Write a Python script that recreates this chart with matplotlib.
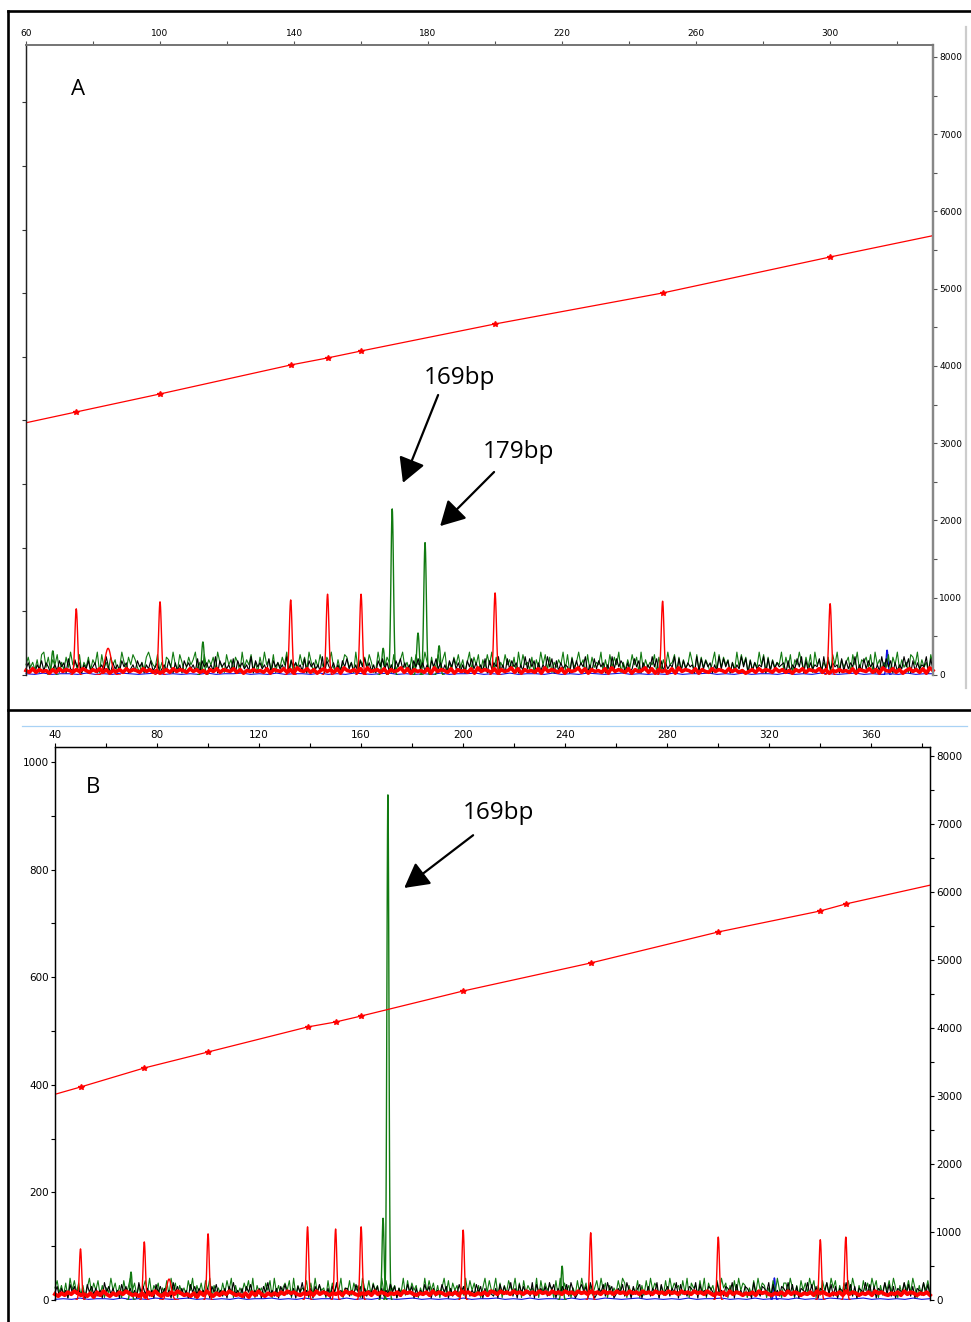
import numpy as np
import matplotlib
matplotlib.use('Agg')
import matplotlib.pyplot as plt
from matplotlib.lines import Line2D

# ---------------- data: panel A ----------------
# size standard peaks (bp) and the scan number of each (sizing curve, right axis)
sizes_a = [75, 100, 139, 150, 160, 200, 250, 300]
scans_a = [3405, 3638, 4013, 4104, 4194, 4544, 4945, 5411]
curve_end_bp_a = [60, 331]
curve_end_scan_a = [3265, 5690]
# size standard peak heights (left axis units)
ladder_h_a = [104, 115, 118, 127, 127, 129, 116, 112]
# other peaks: (bp, height)
green_bp_a = [68, 112.8, 166.6, 169.3, 177.0, 179.1, 183.3]
green_h_a = [38, 52, 42, 261, 66, 208, 46]
red_extra_bp_a = [84.5]
red_extra_h_a = [42]
blue_bp_a = [317]
blue_h_a = [39]

# baseline noise levels read along the run (one digit per sample)
green_noise_a = ("47352618937264815273946281537264918352746139527486315279643825176394"
                 "28513746925183647295318462751936482517394628153749261538472951638427"
                 "59316248735192647385129463751824693517284639517248369152748361592748"
                 "16384927153846271938452716394827153649281735946182735491628374915263"
                 "84719263548172639458172634951827364159283746152938471625394817263549"
                 "27381649527381946253718492635718492657381946253817492635187492635184")
black_noise_a = ("36241537264135274618327461537246135294163527461352746153724613527416"
                 "25174635281746352917463528174635291746352817463529174635281746352917"
                 "43625174836251748362517483625174836251748362517483625174836251748362"
                 "52817364925183746152938471625394817263541827364915283746152938475162"
                 "38471625394817263549182736451928374615293847162539481726354918273645"
                 "61725384917263548192736451827364915283746152938471625394817263549182")
red_noise_a = ("53736452637465364753647362546374653746352463746537463526473654736254"
               "64537265473628547362574637285463728456372645837264537284653726453728"
               "46537264583726453728465372645837264537284653726458372645372846537264"
               "37465374635246374653746352647365473625464537265473628547362574637285")
blue_noise_a = ("21312213121321231212131223121312213121321231212131223121312213121321"
                "23121213122312131221312132123121213122")

# ---------------- data: panel B ----------------
sizes_b = [50, 75, 100, 139, 150, 160, 200, 250, 300, 340, 350]
scans_b = [3132, 3412, 3647, 4015, 4088, 4176, 4544, 4956, 5412, 5721, 5824]
curve_end_bp_b = [40, 383]
curve_end_scan_b = [3025, 6100]
ladder_h_b = [95, 108, 123, 136, 132, 136, 130, 125, 117, 112, 117]
green_bp_b = [69.8, 168.6, 170.5, 238.8]
green_h_b = [52, 152, 939, 63]
red_extra_bp_b = [84.7]
red_extra_h_b = [39]
blue_bp_b = [322]
blue_h_b = [41]

green_noise_b = ("58362719483726159374826153947261835947261583926471538294716352849163"
                 "72849163527384916253748291635274819362574819263548172936451827364915"
                 "38274619538274619382746153928374615293847261593827461529384726159384"
                 "49271638549271836452918374651829374615283947162583947162538497162538"
                 "16283947516283947562839175628391746283957162839476152839476152839417"
                 "73951628473958162847395816274839516284739581627483951627483951627483")
black_noise_b = ("47263518473625184736251947362518473625194736251847362519473625184736"
                 "35261748352617493526174835261749352617483526174935261748352617493526"
                 "62538471625384716253847162538471625384716253847162538471625384716253"
                 "26184735926184735291846372958163748295136847295136482957136482951736"
                 "81537264918357264918352764918352764193527649183527641935276491835276"
                 "49382716549382716549382716549382716549382716549382716549382716549382")
red_noise_b = ("64758697564738596475869756473859647586975647385964758697564738596475"
               "75869786576859687576859786576859687576859786576859687576859786576859"
               "86978697869786978697869786978697869786978697869786978697869786978697"
               "57685968757685978657685968757685978657685968757685978657685968757685")
blue_noise_b = ("12131221312132123121213122312131221312132123121213122312131221312132"
                "12312121312231213122131213212312121312")

GREEN = '#117a11'
RED = '#ff0000'
BLUE = '#1010e0'
TICKFONT = ['Liberation Sans Narrow', 'DejaVu Sans']
LABELFONT = ['Open Sans', 'DejaVu Sans']

W, H = 971, 1322


def rect(x0, y0, x1, y1):
    # pixel box -> figure fraction
    return [x0 / W, 1 - y1 / H, (x1 - x0) / W, (y1 - y0) / H]


def noise_line(ax, s, xlim, scale, color, lw, z):
    vals = np.array([int(c) for c in s]) * scale
    xs = np.linspace(xlim[0], xlim[1], len(vals))
    ax.plot(xs, vals, color=color, lw=lw, zorder=z, clip_on=False)


def peaks(ax, bps, hs, color, sigma, z, lw=1.0):
    for p, h in zip(bps, hs):
        xs = np.linspace(p - 4 * sigma, p + 4 * sigma, 41)
        ax.plot(xs, h * np.exp(-0.5 * ((xs - p) / sigma) ** 2), color=color, lw=lw, zorder=z)


def style_ticks(ax, ax2):
    for a in (ax, ax2):
        for lab in a.get_xticklabels() + a.get_yticklabels():
            lab.set_family(TICKFONT)
            lab.set_fontsize(6.5)


fig = plt.figure(figsize=(9.71, 13.22), dpi=100)

# ================= panel A =================
xlim_a = (60, 330.7)
axA = fig.add_axes(rect(26, 45, 933, 675))
axA.set_xlim(*xlim_a)
axA.set_ylim(0, 990)
axA2 = axA.twinx()
axA2.set_ylim(0, 8155)

noise_line(axA, blue_noise_a, xlim_a, 1.0, BLUE, 0.8, 2)
noise_line(axA, green_noise_a, xlim_a, 4.0, GREEN, 0.8, 3)
noise_line(axA, black_noise_a, xlim_a, 3.2, 'black', 0.8, 4)
noise_line(axA, red_noise_a, xlim_a, 1.4, RED, 2.6, 5)
peaks(axA, green_bp_a, green_h_a, GREEN, 0.38, 3)
peaks(axA, blue_bp_a, blue_h_a, BLUE, 0.3, 2)
peaks(axA, sizes_a, ladder_h_a, RED, 0.4, 6)
peaks(axA, red_extra_bp_a, red_extra_h_a, RED, 0.9, 6)

axA2.plot([curve_end_bp_a[0]] + sizes_a + [curve_end_bp_a[1]],
          [curve_end_scan_a[0]] + scans_a + [curve_end_scan_a[1]], color=RED, lw=0.9)
axA2.plot(sizes_a, scans_a, ls='none', marker='*', ms=4, color=RED)

axA.xaxis.tick_top()
axA.set_xticks(np.arange(60, 331, 40))
axA.set_xticks(np.arange(80, 331, 40), minor=True)
axA.tick_params(axis='x', which='both', top=True, bottom=False, labeltop=True,
                labelbottom=False, length=3, width=0.8, pad=2, color='#555555')
axA.set_yticks(np.arange(0, 991, 100))
axA.set_yticklabels([])
axA.tick_params(axis='y', length=3, width=0.8, color='#333333')
axA2.set_yticks(np.arange(0, 8001, 1000))
axA2.set_yticks(np.arange(500, 8001, 1000), minor=True)
axA2.tick_params(axis='y', which='both', length=3, width=0.8, pad=1.5, color='#555555')
style_ticks(axA, axA2)

for a in (axA, axA2):
    a.spines['bottom'].set_visible(False)
    a.spines['top'].set_color('#777777')
    a.spines['top'].set_linewidth(1.4)
    a.spines['left'].set_color('#222222')
    a.spines['left'].set_linewidth(0.9)
    a.spines['right'].set_color('#888888')
    a.spines['right'].set_linewidth(1.6)
    a.set_facecolor('none')

axA.text(75.5, 920, 'A', fontsize=16, family=LABELFONT, ha='center', va='center')
axA.text(189.3, 467, '169bp', fontsize=17.5, family=LABELFONT, ha='center', va='center')
axA.text(206.9, 351, '179bp', fontsize=17.5, family=LABELFONT, ha='center', va='center')
arrow = dict(arrowstyle='-|>,head_length=1.0,head_width=0.55', mutation_scale=15,
             lw=1.6, color='black', shrinkA=0, shrinkB=0)
axA.annotate('', xy=(172.5, 302), xytext=(183.0, 440), arrowprops=arrow)
axA.annotate('', xy=(183.6, 234), xytext=(199.7, 319), arrowprops=arrow)

# ================= panel B =================
xlim_b = (40, 383)
axB = fig.add_axes(rect(55, 747, 930, 1300))
axB.set_xlim(*xlim_b)
axB.set_ylim(0, 1028)
axB2 = axB.twinx()
axB2.set_ylim(0, 8132)

noise_line(axB, blue_noise_b, xlim_b, 1.2, BLUE, 0.8, 2)
noise_line(axB, green_noise_b, xlim_b, 4.5, GREEN, 0.8, 3)
noise_line(axB, black_noise_b, xlim_b, 3.6, 'black', 0.8, 4)
noise_line(axB, red_noise_b, xlim_b, 1.8, RED, 2.8, 5)
peaks(axB, green_bp_b, green_h_b, GREEN, 0.4, 3)
peaks(axB, blue_bp_b, blue_h_b, BLUE, 0.35, 2)
peaks(axB, sizes_b, ladder_h_b, RED, 0.45, 6)
peaks(axB, red_extra_bp_b, red_extra_h_b, RED, 0.9, 6)

axB2.plot([curve_end_bp_b[0]] + sizes_b + [curve_end_bp_b[1]],
          [curve_end_scan_b[0]] + scans_b + [curve_end_scan_b[1]], color=RED, lw=0.9)
axB2.plot(sizes_b, scans_b, ls='none', marker='*', ms=4, color=RED)

axB.xaxis.tick_top()
axB.set_xticks(np.arange(40, 381, 40))
axB.set_xticks(np.arange(60, 381, 40), minor=True)
axB.tick_params(axis='x', which='both', top=True, bottom=False, labeltop=True,
                labelbottom=False, length=3, width=0.8, pad=2)
axB.set_yticks(np.arange(0, 1001, 200))
axB.set_yticks(np.arange(100, 1001, 200), minor=True)
axB.tick_params(axis='y', which='both', length=3, width=0.8, pad=1.5)
axB2.set_yticks(np.arange(0, 8001, 1000))
axB2.set_yticks(np.arange(500, 8001, 1000), minor=True)
axB2.tick_params(axis='y', which='both', length=3, width=0.8, pad=1.5)
style_ticks(axB, axB2)
for lab in axB.get_xticklabels() + axB.get_yticklabels() + axB2.get_yticklabels():
    lab.set_fontsize(7.5)

for a in (axB, axB2):
    a.spines['bottom'].set_visible(False)
    for s in ('top', 'left', 'right'):
        a.spines[s].set_linewidth(0.9)
    a.set_facecolor('none')

axB.text(54.9, 952, 'B', fontsize=16, family=LABELFONT, ha='center', va='center')
axB.text(213.7, 905, '169bp', fontsize=17.5, family=LABELFONT, ha='center', va='center')
axB.annotate('', xy=(176.9, 766), xytext=(203.9, 864), arrowprops=arrow)

# ================= outer frame =================
frame = dict(transform=fig.transFigure, color='black', lw=1.9)
fig.add_artist(Line2D([8 / W, 1], [1 - 11 / H] * 2, **frame))
fig.add_artist(Line2D([8 / W] * 2, [1 - 11 / H, 0], **frame))
fig.add_artist(Line2D([8 / W, 1], [1 - 710 / H] * 2, **frame))
fig.add_artist(Line2D([966 / W] * 2, [1 - 27 / H, 1 - 688 / H], transform=fig.transFigure,
                      color='#cccccc', lw=1.6))
fig.add_artist(Line2D([22 / W, 967 / W], [1 - 726 / H] * 2, transform=fig.transFigure,
                      color='#a9d2f5', lw=0.9))

fig.savefig('out.png', dpi=100)
